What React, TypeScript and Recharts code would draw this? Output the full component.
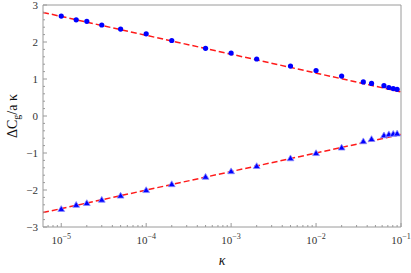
import React from 'react';
import { ComposedChart, Scatter, Line, XAxis, YAxis, ReferenceArea } from 'recharts';

// kappa sample points (log axis)
const kappa = [
  1e-5, 1.5e-5, 2e-5, 3e-5, 5e-5, 1e-4, 2e-4, 5e-4, 1e-3, 2e-3, 5e-3, 1e-2, 2e-2,
  0.036, 0.045, 0.063, 0.072, 0.081, 0.09,
];
const upperValues = [
  2.7, 2.6, 2.56, 2.46, 2.35, 2.22, 2.04, 1.83, 1.7, 1.54, 1.35, 1.23, 1.08,
  0.92, 0.88, 0.82, 0.77, 0.74, 0.72,
];
const lowerValues = [
  -2.52, -2.41, -2.36, -2.27, -2.16, -2.01, -1.85, -1.65, -1.5, -1.36, -1.15, -1.01, -0.86,
  -0.69, -0.63, -0.53, -0.5, -0.49, -0.48,
];

// fitted dashed lines, end points at the frame edges
const fitKappa = [6.1e-6, 0.1];
const upperFitValues = [2.8, 0.65];
const lowerFitValues = [-2.61, -0.5];

const xMajor = [1e-5, 1e-4, 1e-3, 1e-2, 1e-1];
const xMajorExp = ['5', '4', '3', '2', '1'];
const yMajor = [-3, -2, -1, 0, 1, 2, 3];

const xMin = 6.1e-6;
const xMax = 0.1;

const xMinor: number[] = [];
for (let e = -6; e <= -2; e++) {
  for (let k = 2; k <= 9; k++) {
    const v = k * Math.pow(10, e);
    if (v >= xMin && v <= xMax) xMinor.push(v);
  }
}
const yMinor: number[] = [];
for (let i = -15; i <= 15; i++) {
  if (i % 5 !== 0) yMinor.push(i / 5);
}

const upper = kappa.map((x, i) => ({ x, y: upperValues[i] }));
const lower = kappa.map((x, i) => ({ x, y: lowerValues[i] }));
const upperFit = fitKappa.map((x, i) => ({ x, y: upperFitValues[i] }));
const lowerFit = fitKappa.map((x, i) => ({ x, y: lowerFitValues[i] }));

const FONT = '"Liberation Serif", "DejaVu Serif", serif';
const FRAME = '#9a9a9a';

const isMajorX = (v: number) => xMajor.some((m) => Math.abs(m - v) / m < 1e-6);

const XTick = (props: any) => {
  const { x, y, payload } = props;
  const v = payload.value as number;
  const idx = xMajor.findIndex((m) => Math.abs(m - v) / m < 1e-6);
  const major = idx >= 0;
  return (
    <g>
      <line x1={x} x2={x} y1={y} y2={y - (major ? 4 : 2)} stroke={FRAME} strokeWidth={1} />
      {major && (
        <text x={x} y={y + 17} textAnchor="middle" fontFamily={FONT} fontSize={11} fill="#333">
          10
          <tspan fontSize={8} dy={-5}>
            {'\u2212' + xMajorExp[idx]}
          </tspan>
        </text>
      )}
    </g>
  );
};

const YTick = (props: any) => {
  const { x, y, payload } = props;
  const v = payload.value as number;
  const major = Number.isInteger(v);
  return (
    <g>
      <line x1={x} x2={x + (major ? 4 : 2)} y1={y} y2={y} stroke={FRAME} strokeWidth={1} />
      {major && (
        <text x={x - 5} y={y + 4} textAnchor="end" fontFamily={FONT} fontSize={11} fill="#333">
          {v < 0 ? '\u2212' + Math.abs(v) : String(v)}
        </text>
      )}
    </g>
  );
};

const Dot = (props: any) => {
  const { cx, cy } = props;
  return <circle cx={cx} cy={cy} r={2.6} fill="#0000ff" />;
};

const Tri = (props: any) => {
  const { cx, cy } = props;
  const pts = `${cx},${cy - 3.6} ${cx - 3.4},${cy + 2.2} ${cx + 3.4},${cy + 2.2}`;
  return <polygon points={pts} fill="#0000ff" stroke="#8a8aff" strokeWidth={0.8} />;
};

export default function App() {
  return (
    <div style={{ position: 'absolute', left: 0, top: 0, width: 411, height: 273 }}>
      <ComposedChart width={411} height={273} margin={{ top: 5, right: 10, bottom: 0, left: 0 }}>
        <XAxis
          dataKey="x"
          type="number"
          scale="log"
          domain={[xMin, xMax]}
          allowDataOverflow
          ticks={[...xMinor, ...xMajor].sort((a, b) => a - b)}
          interval={0}
          tick={<XTick />}
          tickSize={0}
          tickMargin={0}
          tickLine={false}
          axisLine={false}
          height={46}
        />
        <YAxis
          dataKey="y"
          type="number"
          domain={[-3, 3]}
          allowDataOverflow
          ticks={[...yMinor, ...yMajor].sort((a, b) => a - b)}
          interval={0}
          tick={<YTick />}
          tickSize={0}
          tickMargin={0}
          tickLine={false}
          axisLine={false}
          width={43}
        />
        <ReferenceArea x1={xMin} x2={xMax} y1={-3} y2={3} fill="none" stroke={FRAME} strokeWidth={1} />
        <Scatter data={upper} shape={<Dot />} isAnimationActive={false} />
        <Scatter data={lower} shape={<Tri />} isAnimationActive={false} />
        <Line
          data={upperFit}
          dataKey="y"
          type="linear"
          stroke="#ff1a1a"
          strokeWidth={1.5}
          strokeDasharray="6 3"
          dot={false}
          activeDot={false}
          isAnimationActive={false}
        />
        <Line
          data={lowerFit}
          dataKey="y"
          type="linear"
          stroke="#ff1a1a"
          strokeWidth={1.5}
          strokeDasharray="6 3"
          dot={false}
          activeDot={false}
          isAnimationActive={false}
        />
      </ComposedChart>
      <svg
        width={411}
        height={273}
        style={{ position: 'absolute', left: 0, top: 0, pointerEvents: 'none' }}
      >
        <text
          transform="translate(17,116) rotate(-90)"
          textAnchor="middle"
          fontFamily={FONT}
          fontSize={14}
          fill="#111"
        >
          ΔC
          <tspan fontSize={10} dy={3}>
            g
          </tspan>
          <tspan dy={-3}>/a κ</tspan>
        </text>
        <text x={222} y={265} textAnchor="middle" fontFamily={FONT} fontSize={14} fontStyle="italic" fill="#111">
          κ
        </text>
      </svg>
    </div>
  );
}
